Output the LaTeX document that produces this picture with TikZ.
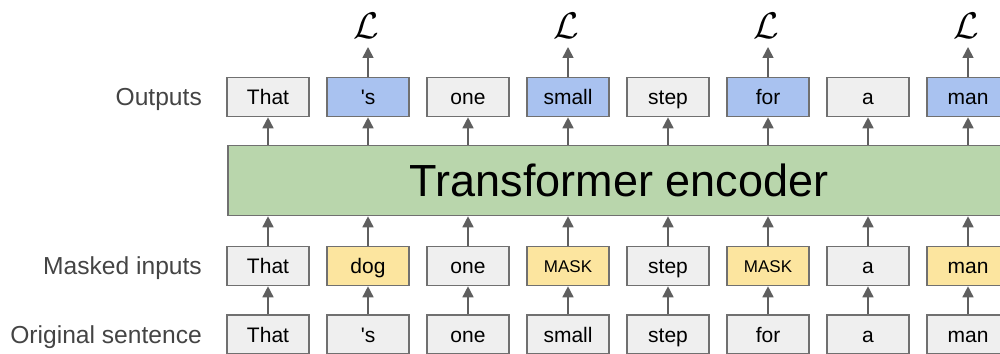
\documentclass[tikz,border=0pt]{standalone}
\usepackage{fontspec}
\setmainfont{Liberation Sans}
\usetikzlibrary{arrows.meta}
\definecolor{tokgray}{HTML}{EFEFEF}
\definecolor{tokblue}{HTML}{A9C2F0}
\definecolor{tokyellow}{HTML}{FCE59F}
\definecolor{encgreen}{HTML}{B9D6AC}
\definecolor{edgegray}{HTML}{707070}
\definecolor{arrowgray}{HTML}{5F5F5F}
\definecolor{labelgray}{HTML}{444444}
\newcommand{\apos}{\textquotesingle}
\tikzset{
  tok/.style={draw=edgegray, line width=1.6pt, fill=tokgray, minimum width=81.5pt,
    minimum height=39pt, inner sep=0pt,
    font=\fontsize{21}{21}\selectfont, text height=15pt, text depth=0pt},
  predtok/.style={tok, fill=tokblue},
  masktok/.style={tok, fill=tokyellow},
  maskword/.style={tok, fill=tokyellow, font=\fontsize{17}{17}\selectfont, text height=12.2pt},
  enc/.style={draw=edgegray, line width=1.6pt, fill=encgreen, minimum width=782pt,
    minimum height=70pt, inner sep=0pt,
    font=\fontsize{45}{45}\selectfont, text height=32.5pt, text depth=0pt},
  rowlabel/.style={anchor=east, inner sep=0pt, text=labelgray,
    font=\fontsize{24.6}{24.6}\selectfont, text height=17.6pt, text depth=0pt},
  loss/.style={anchor=base, inner sep=0pt, scale=1.49, font=\Huge},
  conn/.style={draw=arrowgray, line width=1.6pt, -{Triangle[width=11pt,length=11pt]}},
}
\begin{document}
\begin{tikzpicture}[x=1pt,y=-1pt]
\useasboundingbox (0,0) rectangle (1000,353);
\clip (0,0) rectangle (1000,353);

% row labels
\node[rowlabel] (lblout) at (202,97) {Outputs};
\node[rowlabel] (lblmask) at (202,266) {Masked inputs};
\node[rowlabel] (lblorig) at (202,334.5) {Original sentence};

% encoder block
\node[enc] (enc) at (619,180.5) {Transformer encoder};

% original sentence
\foreach \w [count=\i] in {That,\apos s,one,small,step,for,a,man}
  \node[tok] (orig\i) at ({268+100*(\i-1)},334.5) {\w};

% masked inputs
\foreach \w/\s [count=\i] in {That/tok,dog/masktok,one/tok,MASK/maskword,step/tok,MASK/maskword,a/tok,man/masktok}
  \node[\s] (in\i) at ({268+100*(\i-1)},266) {\w};

% outputs
\foreach \w/\s [count=\i] in {That/tok,\apos s/predtok,one/tok,small/predtok,step/tok,for/predtok,a/tok,man/predtok}
  \node[\s] (out\i) at ({268+100*(\i-1)},97) {\w};

% connectors
\foreach \i in {1,...,8} {
  \draw[conn] (orig\i.north) -- (in\i.south);
  \draw[conn] (in\i.north) -- (in\i.north |- enc.south);
  \draw[conn] (out\i.south |- enc.north) -- (out\i.south);
}

% losses on the predicted tokens
\foreach \i in {2,4,6,8} {
  \coordinate (tip\i) at ({268+100*(\i-1)},47);
  \draw[conn] (out\i.north) -- (tip\i);
  \node[loss] (loss\i) at ({266+100*(\i-1)},38.5) {$\mathcal{L}$};
}
\end{tikzpicture}
\end{document}
